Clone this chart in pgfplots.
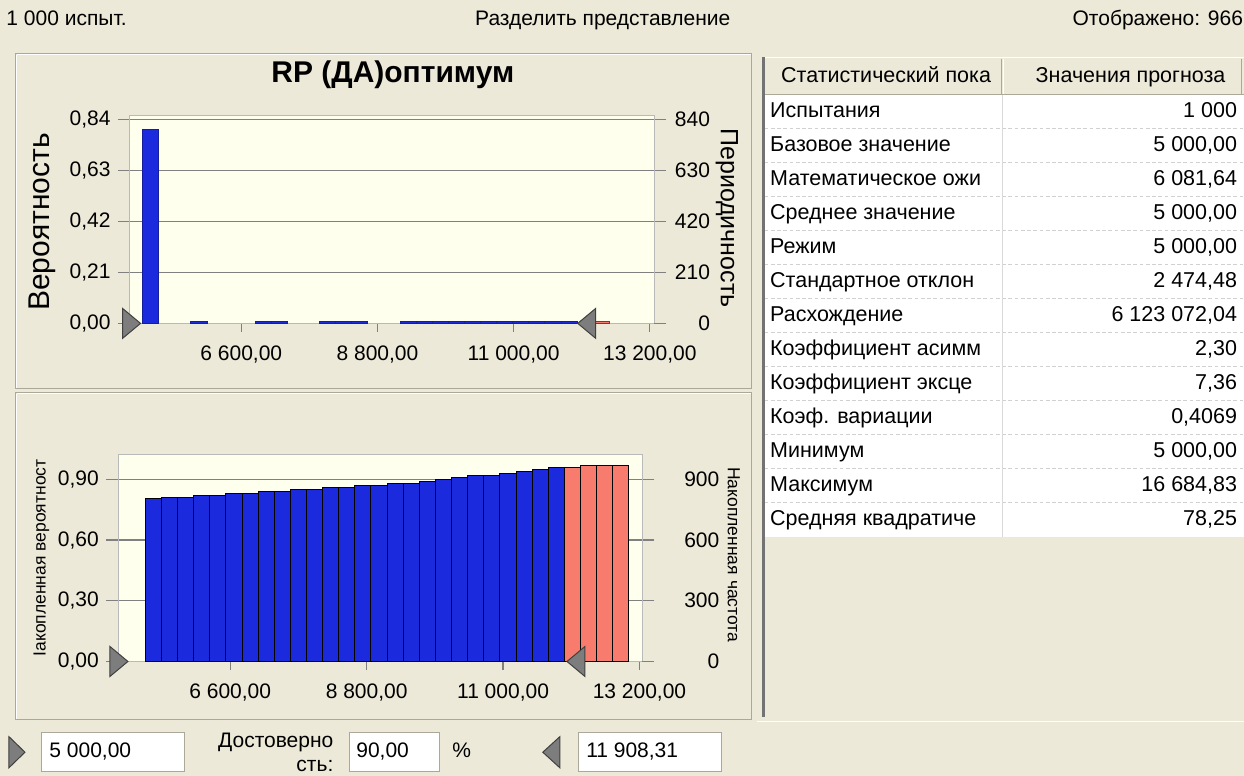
\documentclass[border=0pt]{standalone}
\usepackage{fontspec}
\setmainfont{Liberation Sans}
\usepackage{pgfplots}
\pgfplotsset{compat=1.18}

\definecolor{winbg}{RGB}{236,233,216}
\definecolor{plotbg}{RGB}{255,255,238}
\definecolor{gridc}{RGB}{128,128,128}
\definecolor{boxc}{RGB}{185,185,185}
\definecolor{barblue}{RGB}{28,42,222}
\definecolor{barred}{RGB}{248,124,110}
\definecolor{etch}{RGB}{172,168,153}
\definecolor{handle}{RGB}{125,125,125}

% slider handles, tip at the data point
\pgfdeclareplotmark{rtri}{%
  \pgfpathmoveto{\pgfqpoint{0pt}{0pt}}%
  \pgfpathlineto{\pgfqpoint{-7.2pt}{6pt}}%
  \pgfpathlineto{\pgfqpoint{-7.2pt}{-6pt}}%
  \pgfpathclose
  \pgfusepathqfillstroke}
\pgfdeclareplotmark{ltri}{%
  \pgfpathmoveto{\pgfqpoint{0pt}{0pt}}%
  \pgfpathlineto{\pgfqpoint{7.2pt}{6pt}}%
  \pgfpathlineto{\pgfqpoint{7.2pt}{-6pt}}%
  \pgfpathclose
  \pgfusepathqfillstroke}

\pgfplotsset{
  panel/.style={
    scale only axis, anchor=south west, clip=false,
    width=209.7pt, height=83pt,
    axis line style={draw=boxc, line width=0.4pt},
    tick align=outside,
    major tick length=4.8pt,
    tick style={gridc, line width=0.5pt},
    xtick style={/pgfplots/major tick length=3.5pt},
    tick label style={font=\fontsize{8.4}{10}\selectfont},
    scaled x ticks=false, scaled y ticks=false,
  },
  leftpanel/.style={panel,
    axis background/.style={fill=plotbg},
    ymajorgrids, grid style={gridc, line width=0.5pt},
    xtick={6600,8800,11000,13200},
    xticklabels={{6 600,00},{8 800,00},{11 000,00},{13 200,00}},
    xtick pos=bottom, ytick pos=left,
    yticklabel style={anchor=east, inner sep=0pt, xshift=-2.8pt},
    xticklabel style={yshift=-0.6pt},
  },
  rightpanel/.style={panel,
    axis x line=none, axis y line*=right, xtick=\empty,
  },
}

\tikzset{txt/.style={inner sep=0pt, text height=6.3pt, text depth=1.7pt}}

\begin{document}
\begin{tikzpicture}
\begin{scope}[x=0.4pt,y=-0.4pt]
\useasboundingbox (0,0) rectangle (1244,776);
\fill[winbg] (0,0) rectangle (1244,776);

% header strip
\node[txt, anchor=west, font=\fontsize{8.4}{10}\selectfont] at (6,20) {1 000 испыт.};
\node[txt, font=\fontsize{8.4}{10}\selectfont] at (603,20) {Разделить представление};
\node[txt, anchor=east, font=\fontsize{8.4}{10}\selectfont] at (1244,20) {Отображено: 966};

% etched frames
\draw[etch] (16,54) rectangle (752,389);
\draw[white] (17,55) -- (751,55) (17,55) -- (17,388);
\draw[etch] (16,393) rectangle (752,720);
\draw[white] (17,394) -- (751,394) (17,394) -- (17,719);
\end{scope}

% ---------- top chart: probability ----------
\begin{axis}[leftpanel, at={(52pt,-129.4pt)},
  xmin=4801, xmax=13268, ymin=0, ymax=0.855,
  ytick={0,0.21,0.42,0.63,0.84},
  yticklabels={{0,00},{0,21},{0,42},{0,63},{0,84}},
  bar width=260, bar shift=0pt]
\addplot[ybar, fill=barblue, draw=barblue!70!black, line width=0.4pt] coordinates {
  (5136,0.800) (5916,0.008) (6956,0.007) (7216,0.007)
  (7996,0.007) (8256,0.007) (8516,0.007)
  (9296,0.006) (9556,0.006) (9816,0.006) (10076,0.006) (10336,0.006)
  (10596,0.006) (10856,0.006) (11116,0.006) (11376,0.006) (11636,0.006)
  (11896,0.006)
};
\addplot[ybar, fill=barred, draw=black!70, line width=0.4pt] coordinates {(12416,0.006)};
\addplot[only marks, mark=rtri, mark options={fill=handle, draw=black!75, line width=0.4pt}] coordinates {(4972,0)};
\addplot[only marks, mark=ltri, mark options={fill=handle, draw=black!75, line width=0.4pt}] coordinates {(12036,0)};
\end{axis}
\begin{axis}[rightpanel, at={(52pt,-129.4pt)},
  xmin=4801, xmax=13268, ymin=0, ymax=855,
  ytick={0,210,420,630,840}, yticklabels={0,210,420,630,840},
  yticklabel style={anchor=east, inner sep=0pt, xshift=17.8pt}]
\addplot[draw=none] coordinates {(5000,0)};
\end{axis}

% ---------- bottom chart: cumulative ----------
\begin{axis}[leftpanel, at={(47.32pt,-264.68pt)},
  xmin=4794, xmax=13246, ymin=0, ymax=1.025,
  ytick={0,0.3,0.6,0.9},
  yticklabels={{0,00},{0,30},{0,60},{0,90}},
  bar width=260, bar shift=0pt]
\addplot[ybar, fill=barblue, draw=black, line width=0.4pt] coordinates {
  (5360,0.804) (5620,0.812) (5880,0.812) (6140,0.821) (6400,0.821)
  (6660,0.831) (6920,0.831) (7180,0.842) (7440,0.842) (7700,0.850)
  (7960,0.850) (8220,0.862) (8480,0.862) (8740,0.870) (9000,0.870)
  (9260,0.880) (9520,0.880) (9780,0.890) (10040,0.900) (10300,0.910)
  (10560,0.920) (10820,0.920) (11080,0.930) (11340,0.941) (11600,0.950)
  (11860,0.958)
};
\addplot[ybar, fill=barred, draw=black, line width=0.4pt] coordinates {
  (12120,0.958) (12380,0.969) (12640,0.969) (12900,0.969)
};
\addplot[only marks, mark=rtri, mark options={fill=handle, draw=black!75, line width=0.4pt}] coordinates {(4950,0)};
\addplot[only marks, mark=ltri, mark options={fill=handle, draw=black!75, line width=0.4pt}] coordinates {(12031,0)};
\end{axis}
\begin{axis}[rightpanel, at={(47.32pt,-264.68pt)},
  xmin=4794, xmax=13246, ymin=0, ymax=1025,
  ytick={0,300,600,900}, yticklabels={0,300,600,900},
  yticklabel style={anchor=east, inner sep=0pt, xshift=26.2pt}]
\addplot[draw=none] coordinates {(5000,0)};
\end{axis}

\begin{scope}[x=0.4pt,y=-0.4pt]
\node[txt, font=\bfseries\fontsize{12}{14}\selectfont] at (393,77) {RP (ДА)оптимум};
\node[txt, rotate=90, font=\fontsize{12}{14}\selectfont] at (44,222) {Вероятность};
\node[txt, rotate=-90, font=\fontsize{10}{12}\selectfont] at (727,218) {Периодичность};
\node[txt, rotate=90, font=\fontsize{7}{8}\selectfont] at (40,558) {Іакопленная вероятност};
\node[txt, rotate=-90, font=\fontsize{7}{8}\selectfont] at (734,555) {Накопленная частота};

% ---------- statistics table ----------
\fill[white] (765,95) rectangle (1244,537);
\fill[winbg] (765,58) rectangle (1244,95);
\draw[white] (765,58) -- (1244,58) (1004,59) -- (1004,94);
\draw[etch] (765,95) -- (1244,95) (1002,59) -- (1002,94) (1242,59) -- (1242,94);
\foreach \k in {1,...,12} \draw[black!18, dash pattern=on 1.5pt off 1pt] (765,{95+34*\k}) -- (1244,{95+34*\k});
\draw[black!15] (1003,95) -- (1003,537);
\draw[black!55, line width=1.2pt] (764,57) -- (764,717);
\draw[white] (757,722) -- (1244,722);

\begin{scope}[every node/.style={txt, font=\fontsize{8.6}{10}\selectfont}]
\node[anchor=west] at (781,77) {Статистический пока};
\node at (1131,77) {Значения прогноза};
\node[anchor=west] at (770,112) {Испытания};          \node[anchor=east] at (1238,112) {1 000};
\node[anchor=west] at (770,146) {Базовое значение};   \node[anchor=east] at (1238,146) {5 000,00};
\node[anchor=west] at (770,180) {Математическое ожи}; \node[anchor=east] at (1238,180) {6 081,64};
\node[anchor=west] at (770,214) {Среднее значение};   \node[anchor=east] at (1238,214) {5 000,00};
\node[anchor=west] at (770,248) {Режим};              \node[anchor=east] at (1238,248) {5 000,00};
\node[anchor=west] at (770,282) {Стандартное отклон}; \node[anchor=east] at (1238,282) {2 474,48};
\node[anchor=west] at (770,316) {Расхождение};        \node[anchor=east] at (1238,316) {6 123 072,04};
\node[anchor=west] at (770,350) {Коэффициент асимм};  \node[anchor=east] at (1238,350) {2,30};
\node[anchor=west] at (770,384) {Коэффициент эксце};  \node[anchor=east] at (1238,384) {7,36};
\node[anchor=west] at (770,418) {Коэф. вариации};     \node[anchor=east] at (1238,418) {0,4069};
\node[anchor=west] at (770,452) {Минимум};            \node[anchor=east] at (1238,452) {5 000,00};
\node[anchor=west] at (770,486) {Максимум};           \node[anchor=east] at (1238,486) {16 684,83};
\node[anchor=west] at (770,520) {Средняя квадратиче}; \node[anchor=east] at (1238,520) {78,25};
\end{scope}

% ---------- certainty controls ----------
\filldraw[fill=handle, draw=black!75] (9,737) -- (25,752.5) -- (9,768) -- cycle;
\filldraw[fill=handle, draw=black!75] (560,737) -- (543,752.5) -- (560,768) -- cycle;
\filldraw[fill=white, draw=etch] (42,733) rectangle (185,772);
\filldraw[fill=white, draw=etch] (350,733) rectangle (440,772);
\filldraw[fill=white, draw=etch] (579,733) rectangle (722,772);
\begin{scope}[every node/.style={txt, font=\fontsize{8.4}{10}\selectfont}]
\node[anchor=west] at (49,752) {5 000,00};
\node[anchor=west] at (356,752) {90,00};
\node[anchor=west] at (586,752) {11 908,31};
\node at (462,752) {\%};
\node[anchor=east] at (334,742) {Достоверно};
\node[anchor=east] at (334,766) {сть:};
\end{scope}
\end{scope}
\end{tikzpicture}
\end{document}
